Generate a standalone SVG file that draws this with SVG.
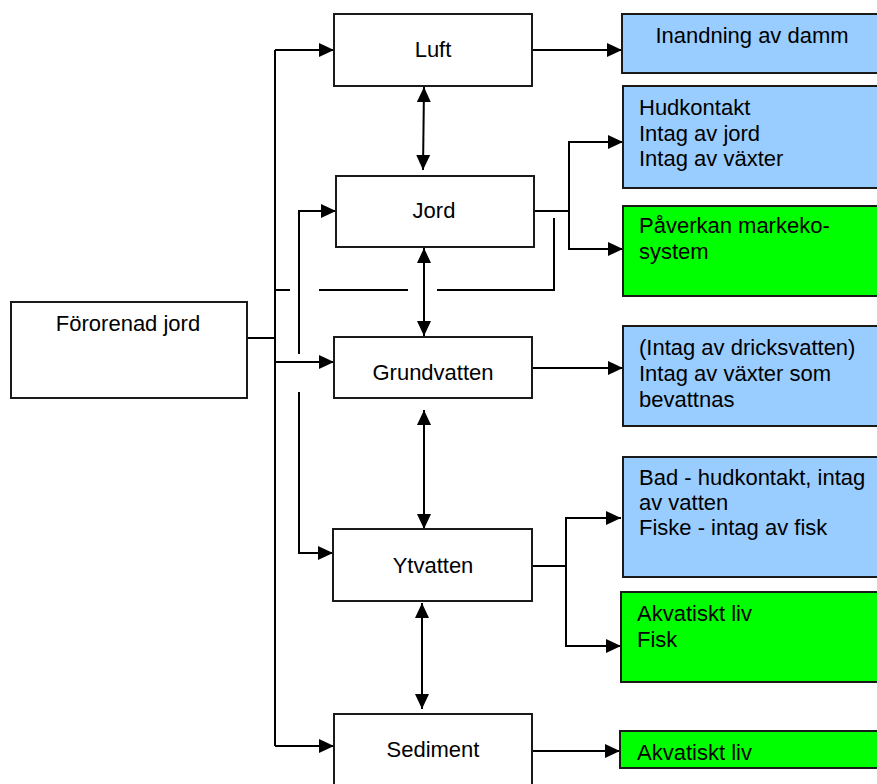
<svg xmlns="http://www.w3.org/2000/svg" width="877" height="784" viewBox="0 0 877 784">
<style>
.box{fill:#fff;stroke:#1a1a1a;stroke-width:2}
.blue{fill:#99ccff;stroke:#1a1a1a;stroke-width:2}
.green{fill:#00ff00;stroke:#1a1a1a;stroke-width:2}
.t{font-family:"Liberation Sans",Arial,sans-serif;font-size:22px;fill:#000}
.c{text-anchor:middle}
.ln{fill:none;stroke:#000;stroke-width:2}
.a{marker-end:url(#ah)}
.d{marker-start:url(#ah);marker-end:url(#ah)}
</style>
<defs>
<marker id="ah" markerUnits="userSpaceOnUse" markerWidth="15" markerHeight="15" refX="15" refY="7" orient="auto-start-reverse" viewBox="0 0 15 14">
<path d="M0,0 L15,7 L0,14 z" fill="#000"/>
</marker>
</defs>
<g id="connectors">
<path class="ln" d="M247,338 H275"/>
<path class="ln" d="M275,50 V746"/>
<path class="ln a" d="M275,50 H334"/>
<path class="ln a" d="M275,362 H334"/>
<path class="ln a" d="M275,746 H334"/>
<path class="ln a" d="M299,354 V211 H336"/>
<path class="ln a" d="M299,392 V553 H333"/>
<path class="ln" d="M554,218 V290 H437"/>
<path class="ln" d="M408,290 H319"/>
<path class="ln" d="M290,290 H275"/>
<path class="ln d" d="M424,87 L423,170"/>
<path class="ln d" d="M424,248 V336"/>
<path class="ln d" d="M424,410 V529"/>
<path class="ln d" d="M422,603 V709"/>
<path class="ln a" d="M532,50 H622"/>
<path class="ln" d="M534,211 H569"/>
<path class="ln a" d="M569,211 V142 H623"/>
<path class="ln a" d="M569,211 V249 H623"/>
<path class="ln a" d="M532,368 H623"/>
<path class="ln" d="M532,566 H566"/>
<path class="ln a" d="M566,566 V518 H621"/>
<path class="ln a" d="M566,566 V646 H621"/>
<path class="ln a" d="M532,751 H620"/>
</g>
<g id="fororenad">
<rect class="box" x="11" y="302" width="236" height="96"/>
<text class="t c" x="128" y="331">Förorenad jord</text>
</g>
<g id="luft">
<rect class="box" x="334" y="14" width="198" height="72"/>
<text class="t c" x="433" y="57">Luft</text>
</g>
<g id="jord">
<rect class="box" x="336" y="176" width="198" height="71"/>
<text class="t c" x="434" y="218">Jord</text>
</g>
<g id="grundvatten">
<rect class="box" x="334" y="337" width="198" height="61"/>
<text class="t c" x="433" y="380">Grundvatten</text>
</g>
<g id="ytvatten">
<rect class="box" x="333" y="529" width="199" height="72"/>
<text class="t c" x="433" y="573">Ytvatten</text>
</g>
<g id="sediment">
<rect class="box" x="334" y="714" width="198" height="72"/>
<text class="t c" x="433" y="757">Sediment</text>
</g>
<g id="inandning">
<rect class="blue" x="622" y="14" width="260" height="59"/>
<text class="t c" x="752" y="43">Inandning av damm</text>
</g>
<g id="hudkontakt">
<rect class="blue" x="623" y="86" width="260" height="102"/>
<text class="t" x="639" y="115">Hudkontakt</text>
<text class="t" x="639" y="141">Intag av jord</text>
<text class="t" x="639" y="166">Intag av växter</text>
</g>
<g id="markekosystem">
<rect class="green" x="623" y="206" width="260" height="90"/>
<text class="t" x="639" y="233">Påverkan markeko-</text>
<text class="t" x="639" y="259">system</text>
</g>
<g id="dricksvatten">
<rect class="blue" x="623" y="326" width="260" height="100"/>
<text class="t" x="639" y="355">(Intag av dricksvatten)</text>
<text class="t" x="639" y="381">Intag av växter som</text>
<text class="t" x="639" y="407">bevattnas</text>
</g>
<g id="bad">
<rect class="blue" x="623" y="457" width="260" height="120"/>
<text class="t" x="639" y="485">Bad - hudkontakt, intag</text>
<text class="t" x="639" y="510">av vatten</text>
<text class="t" x="639" y="535">Fiske - intag av fisk</text>
</g>
<g id="akvatiskt1">
<rect class="green" x="621" y="592" width="260" height="90"/>
<text class="t" x="637" y="621">Akvatiskt liv</text>
<text class="t" x="637" y="647">Fisk</text>
</g>
<g id="akvatiskt2">
<rect class="green" x="620" y="731" width="260" height="37"/>
<text class="t" x="637" y="760">Akvatiskt liv</text>
</g>
</svg>
